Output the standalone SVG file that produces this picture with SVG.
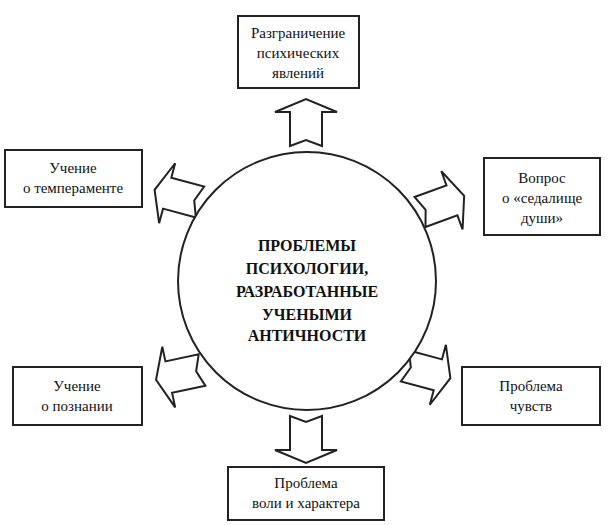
<svg xmlns="http://www.w3.org/2000/svg" width="613" height="525" viewBox="0 0 613 525">
<style>
rect,circle,polygon{fill:#fff;stroke:#222;stroke-width:2}
text{font-family:"Liberation Serif","DejaVu Serif","Times New Roman",serif;font-size:15px;fill:#111;text-anchor:middle}
.b{font-weight:bold;font-size:16px}
</style>
<defs><polygon id="ar" points="0,-16 34,-16 34,-31 47,0 34,31 34,16 0,16 6,0"/></defs>
<rect width="613" height="525" style="fill:#fff;stroke:none"/>
<g id="connectors">
<use href="#ar" transform="translate(306,146) rotate(-90)"/>
<use href="#ar" transform="translate(306,416) rotate(90)"/>
<use href="#ar" transform="translate(200,202) rotate(195)"/>
<use href="#ar" transform="translate(420,212) rotate(-20)"/>
<use href="#ar" transform="translate(202,370) rotate(168)"/>
<use href="#ar" transform="translate(405,366) rotate(15)"/>
</g>
<g id="center"><circle cx="307" cy="281" r="129"/>
<text class="b" x="307" y="251">ПРОБЛЕМЫ</text>
<text class="b" x="307" y="274">ПСИХОЛОГИИ,</text>
<text class="b" x="307" y="297">РАЗРАБОТАННЫЕ</text>
<text class="b" x="307" y="320">УЧЕНЫМИ</text>
<text class="b" x="307" y="341">АНТИЧНОСТИ</text></g>
<g id="n1"><rect x="238" y="16" width="121" height="72"/>
<text x="298" y="38">Разграничение</text><text x="298" y="58">психических</text><text x="298" y="78">явлений</text></g>
<g id="n2"><rect x="484" y="158" width="116" height="77"/>
<text x="542" y="183">Вопрос</text><text x="542" y="203">о «седалище</text><text x="542" y="223">души»</text></g>
<g id="n3"><rect x="5" y="150" width="137" height="57"/>
<text x="73" y="173">Учение</text><text x="73" y="193">о темпераменте</text></g>
<g id="n4"><rect x="13" y="367" width="129" height="58"/>
<text x="77" y="391">Учение</text><text x="77" y="411">о познании</text></g>
<g id="n5"><rect x="462" y="367" width="138" height="58"/>
<text x="531" y="391">Проблема</text><text x="531" y="411">чувств</text></g>
<g id="n6"><rect x="228" y="467" width="156" height="53"/>
<text x="306" y="488">Проблема</text><text x="306" y="508">воли и характера</text></g>
</svg>
